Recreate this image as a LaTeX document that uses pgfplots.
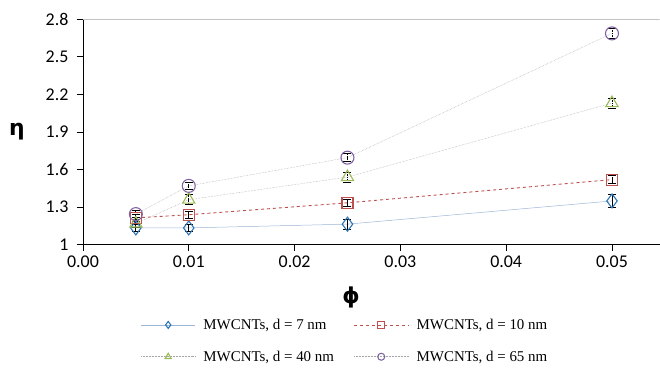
\documentclass[border=0pt]{standalone}
\usepackage{pgfplots}
\pgfplotsset{compat=1.18}
\usepackage{fontspec}
\setmainfont{Liberation Serif}
\newfontfamily\tickfont{Carlito}
\newfontfamily\labfont{DejaVu Sans}
\definecolor{cblue}{HTML}{2E75B6}
\definecolor{cred}{HTML}{C0504D}
\definecolor{cgreen}{HTML}{9BBB59}
\definecolor{cpurple}{HTML}{8064A2}
\definecolor{lblue}{HTML}{9DB5D6}
\definecolor{lgray}{HTML}{A6A6A6}
\begin{document}
\begin{tikzpicture}
\begin{axis}[
  scale only axis,
  width=577bp, height=226bp,
  xmin=0, xmax=0.0545, ymin=1, ymax=2.8,
  axis lines*=left,
  axis line style={black, line width=0.8pt},
  scaled x ticks=false, scaled y ticks=false,
  xtick={0,0.01,0.02,0.03,0.04,0.05},
  ytick={1,1.3,1.6,1.9,2.2,2.5,2.8},
  xticklabels={0.00,0.01,0.02,0.03,0.04,0.05},
  yticklabels={1,1.3,1.6,1.9,2.2,2.5,2.8},
  tick align=outside,
  tick style={black, line width=0.8pt},
  major tick length=6bp,
  tick label style={font=\tickfont\fontsize{18}{20}\selectfont},
  xticklabel style={yshift=-2bp},
  yticklabel style={xshift=-5bp},
  xlabel={\labfont\bfseries\fontsize{22}{24}\selectfont ϕ},
  ylabel={\labfont\bfseries\fontsize{22}{24}\selectfont η},
  ylabel style={rotate=-90, at={(axis description cs:0,0.5)}, anchor=center, xshift=-66bp},
  xlabel style={at={(axis description cs:0.465,0)}, anchor=center, yshift=-53bp},
  legend columns=2,
  legend style={draw=none, fill=none, font=\fontsize{15}{17}\selectfont,
    at={(axis description cs:0.095,0)}, anchor=north west, yshift=-70bp,
    /tikz/every even column/.append style={column sep=18bp},
    row sep=16bp},
  legend cell align=left,
  legend image code/.code={\draw[mark repeat=2,mark phase=2,mark size=3.5bp,line width=0.6pt] plot coordinates {(0bp,0bp) (27bp,0bp) (54bp,0bp)}; \path (60bp,0bp);},
  error bars/y dir=both, error bars/y explicit,
  error bars/error bar style={black, line width=0.9pt},
  error bars/error mark options={rotate=90, black, mark size=4bp, line width=0.9pt},
]
\draw[lgray!70, line width=0.8pt] (axis cs:0,2.8) -- (axis cs:0.0545,2.8);
\addplot[lblue, line width=0.5pt, mark=diamond, mark size=7bp,
  mark options={solid, draw=cblue, line width=1.1pt}]
  coordinates {(0.005,1.135) +- (0,0.03) (0.01,1.135) +- (0,0.03) (0.025,1.165) +- (0,0.04) (0.05,1.35) +- (0,0.05)};
\addlegendentry{MWCNTs, d = 7 nm}
\addplot[cred, dashed, line width=0.9pt, mark=square, mark size=5.5bp,
  mark options={solid, draw=cred, line width=1.1pt}]
  coordinates {(0.005,1.215) +- (0,0.03) (0.01,1.24) +- (0,0.03) (0.025,1.335) +- (0,0.03) (0.05,1.52) +- (0,0.03)};
\addlegendentry{MWCNTs, d = 10 nm}
\addplot[lgray, densely dotted, line width=0.5pt, mark=triangle, mark size=7bp,
  mark options={solid, draw=cgreen, line width=1.1pt}]
  coordinates {(0.005,1.17) +- (0,0.03) (0.01,1.36) +- (0,0.04) (0.025,1.54) +- (0,0.04) (0.05,2.13) +- (0,0.04)};
\addlegendentry{MWCNTs, d = 40 nm}
\addplot[lgray, densely dotted, line width=0.5pt, mark=o, mark size=6.5bp,
  mark options={solid, draw=cpurple, line width=1.1pt}]
  coordinates {(0.005,1.245) +- (0,0.03) (0.01,1.47) +- (0,0.03) (0.025,1.695) +- (0,0.03) (0.05,2.685) +- (0,0.04)};
\addlegendentry{MWCNTs, d = 65 nm}
\end{axis}
\path ([shift={(-83bp,-130bp)}]current axis.south west) rectangle ([shift={(0bp,19bp)}]current axis.north east);
\end{tikzpicture}
\end{document}
